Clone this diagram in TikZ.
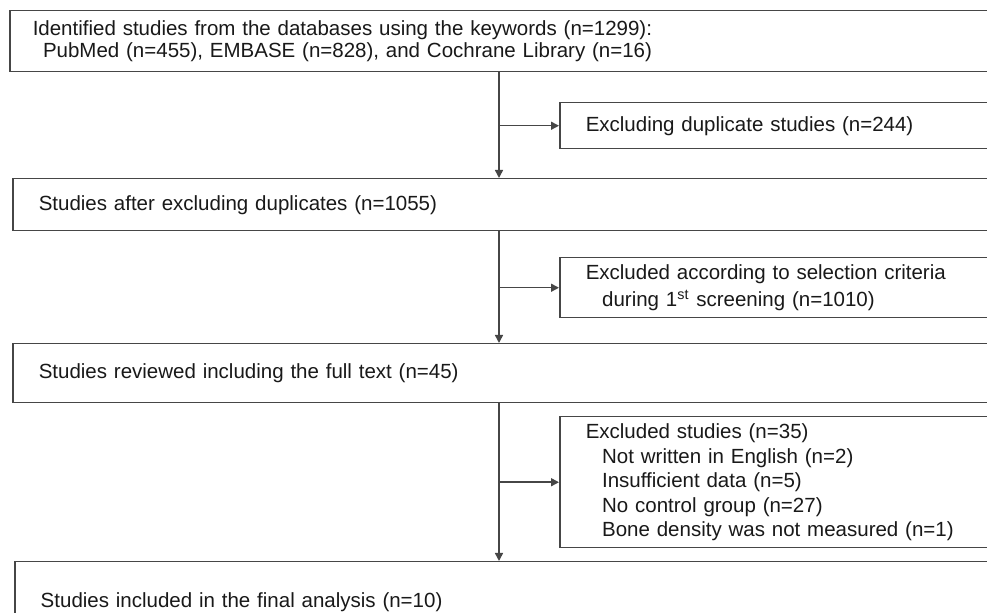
\documentclass[tikz,border=0pt]{standalone}
\usepackage{fontspec}
\setmainfont{Liberation Sans}
\usetikzlibrary{arrows.meta,positioning,calc}
\definecolor{flowLine}{RGB}{70,70,70}
\definecolor{flowText}{RGB}{25,25,25}

\begin{document}
\begin{tikzpicture}[
  x=0.5pt, y=-0.5pt,
  stage/.style={
    draw=flowLine,
    line width=0.75pt,
    anchor=north west,
    minimum width=500pt,
    text width=474pt,
    inner xsep=13pt,
    align=left,
    text=flowText,
    font=\fontsize{10.25}{12.25}\selectfont
  },
  excluded/.style={stage, minimum width=230pt, text width=204pt},
  arrow/.style={-{Triangle[length=4pt,width=4pt]},line width=0.75pt,flowLine}
]
  \useasboundingbox (0,0) rectangle (987,613);
  \fill[white] (0,0) rectangle (987,613);
  \clip (0,0) rectangle (987,613);
  \coordinate (trunk) at (499,0);
  \node[stage,minimum height=30.5pt,inner xsep=11.5pt,text width=477pt] (identified) at (9,10) {Identified studies from the databases using the keywords (n=1299):\\[-1.2pt]\hspace*{0.5em}PubMed (n=455), EMBASE (n=828), and Cochrane Library (n=16)};
  \node[excluded,minimum height=23pt] (duplicates) at (559,102) {Excluding duplicate studies (n=244)};
  \node[stage,minimum height=26pt] (screened) at (12,178) {Studies after excluding duplicates (n=1055)};
  \node[excluded,minimum height=30pt] (criteria) at (559,257) {Excluded according to selection criteria\\[1pt]\hspace*{0.8em}during 1\textsuperscript{st} screening (n=1010)};
  \node[stage,minimum height=29.5pt] (fulltext) at (12,343) {Studies reviewed including the full text (n=45)};
  \node[excluded,minimum height=65.5pt] (reasons) at (559,416) {Excluded studies (n=35)\\
    \hspace*{0.8em}Not written in English (n=2)\\
    \hspace*{0.8em}Insufficient data (n=5)\\
    \hspace*{0.8em}No control group (n=27)\\
    \hspace*{0.8em}Bone density was not measured (n=1)};
  \node[stage,minimum height=40pt] (included) at (14,561) {Studies included in the final analysis (n=10)};
  \draw[arrow] (identified.south -| trunk) -- (screened.north -| trunk);
  \draw[arrow] (duplicates.west -| trunk) -- (duplicates.west);
  \draw[arrow] (screened.south -| trunk) -- (fulltext.north -| trunk);
  \draw[arrow] (criteria.west -| trunk) -- (criteria.west);
  \draw[arrow] (fulltext.south -| trunk) -- (included.north -| trunk);
  \draw[arrow] (reasons.west -| trunk) -- (reasons.west);
\end{tikzpicture}
\end{document}
